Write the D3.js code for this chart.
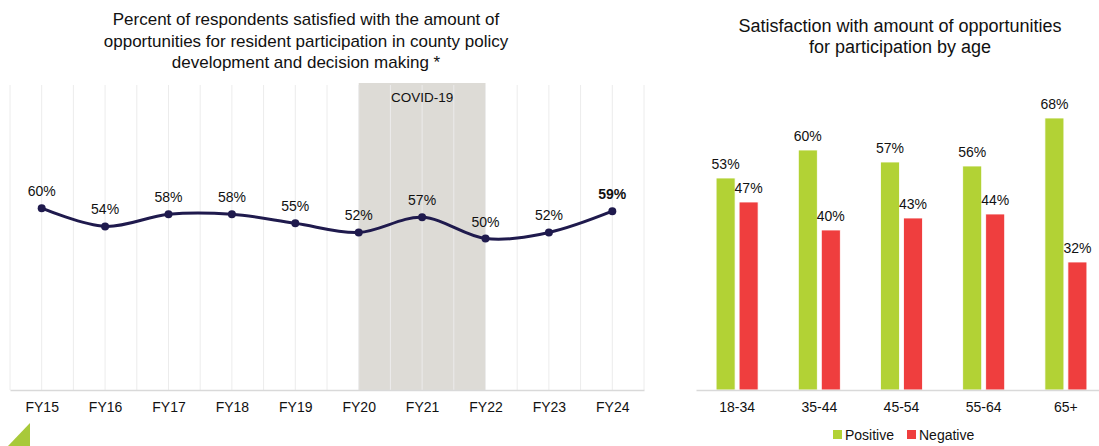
<!DOCTYPE html>
<html>
<head>
<meta charset="utf-8">
<script src="https://cdn.jsdelivr.net/npm/d3@7"></script>
<style>
  body { margin: 0; background: #fff; }
  svg { display: block; font-family: "Liberation Sans", Arial, sans-serif; }
</style>
</head>
<body>
<div class="container"></div>
<script>
var years = ['FY15', 'FY16', 'FY17', 'FY18', 'FY19', 'FY20', 'FY21', 'FY22', 'FY23', 'FY24'];
var satisfied = [60, 54, 58, 58, 55, 52, 57, 50, 52, 59];
var covidSpan = ['FY20', 'FY22'];

var ageGroups = ['18-34', '35-44', '45-54', '55-64', '65+'];
var positive = [53, 60, 57, 56, 68];
var negative = [47, 40, 43, 44, 32];

var WIDTH = 1099, HEIGHT = 446;

var svg = d3.select('.container').append('svg')
    .attr('width', WIDTH)
    .attr('height', HEIGHT);

var translate = function (x, y) {
    return 'translate(' + x + ', ' + y + ')';
};

var addTitle = function (lines, cx, y0, lh, size) {
    svg.append('text')
        .attr('text-anchor', 'middle')
        .attr('font-size', size)
        .attr('fill', '#111')
        .selectAll('tspan')
        .data(lines)
        .enter()
        .append('tspan')
        .attr('x', cx)
        .attr('y', function (d, i) { return y0 + i * lh; })
        .text(function (d) { return d; });
};

// ---- left: line chart ----
var drawLineChart = function () {
    var left = 10, right = 644, top = 87, bottom = 390;
    var xScale = d3.scalePoint().domain(years).range([left, right]).padding(0.5);
    var yScale = d3.scaleLinear().domain([0, 100]).range([bottom, top]);
    var step = xScale.step();

    addTitle(['Percent of respondents satisfied with the amount of',
        'opportunities for resident participation in county policy',
        'development and decision making *'], 306, 25, 21.5, 17);

    var g = svg.append('g');

    // covid shading
    g.append('rect')
        .attr('x', xScale(covidSpan[0]))
        .attr('y', 83)
        .attr('width', xScale(covidSpan[1]) - xScale(covidSpan[0]))
        .attr('height', bottom - 83)
        .attr('fill', '#dddbd6');

    // gridlines at centers and boundaries
    var gridX = [];
    years.forEach(function (y) {
        gridX.push(xScale(y) - step / 2);
        gridX.push(xScale(y));
    });
    gridX.push(right);
    g.selectAll('.grid')
        .data(gridX)
        .enter()
        .append('line')
        .attr('x1', function (d) { return d; })
        .attr('x2', function (d) { return d; })
        .attr('y1', 85)
        .attr('y2', bottom)
        .attr('stroke', '#ececec')
        .attr('stroke-width', 1);

    g.append('text')
        .attr('x', xScale('FY21'))
        .attr('y', 102)
        .attr('text-anchor', 'middle')
        .attr('font-size', 13.5)
        .attr('fill', '#111')
        .text('COVID-19');

    var xAxis = d3.axisBottom(xScale).tickSize(0).tickPadding(12);
    var ax = g.append('g').attr('transform', translate(0, bottom)).call(xAxis);
    ax.select('.domain').attr('stroke', '#d9d9d9').attr('stroke-width', 1.5);
    ax.selectAll('text').attr('font-size', 14).attr('fill', '#111')
        .attr('font-family', '"Liberation Sans", Arial, sans-serif');

    var line = d3.line()
        .x(function (d, i) { return xScale(years[i]); })
        .y(function (d) { return yScale(d); })
        .curve(d3.curveCatmullRom.alpha(0.5));

    g.append('path')
        .datum(satisfied)
        .attr('d', line)
        .attr('fill', 'none')
        .attr('stroke', '#1f1a4d')
        .attr('stroke-width', 3);

    g.selectAll('.pt')
        .data(satisfied)
        .enter()
        .append('circle')
        .attr('cx', function (d, i) { return xScale(years[i]); })
        .attr('cy', function (d) { return yScale(d); })
        .attr('r', 4)
        .attr('fill', '#1f1a4d');

    g.selectAll('.lbl')
        .data(satisfied)
        .enter()
        .append('text')
        .attr('x', function (d, i) { return xScale(years[i]); })
        .attr('y', function (d) { return yScale(d) - 12; })
        .attr('text-anchor', 'middle')
        .attr('font-size', 14)
        .attr('font-weight', function (d, i) { return i === years.length - 1 ? 'bold' : 'normal'; })
        .attr('fill', '#111')
        .text(function (d) { return d + '%'; });

    // corner triangle
    svg.append('path')
        .attr('d', 'M30,423 L30,446 L8,446 Z')
        .attr('fill', '#a8c93a');
};

// ---- right: grouped bars ----
var drawBarChart = function () {
    var left = 696, right = 1107, bottom = 390;
    var x0 = d3.scaleBand().domain(ageGroups).range([left, right]);
    var yScale = d3.scaleLinear().domain([0, 70]).range([bottom, bottom - 280]);
    var barW = 19, gap = 4;

    addTitle(['Satisfaction with amount of opportunities',
        'for participation by age'], 900, 32, 21, 18);

    var g = svg.append('g');
    var series = [
        { name: 'Positive', values: positive, color: '#b2d235', dx: -gap / 2 - barW },
        { name: 'Negative', values: negative, color: '#ef3e3e', dx: gap / 2 }
    ];

    series.forEach(function (s) {
        g.selectAll('.bar-' + s.name)
            .data(s.values)
            .enter()
            .append('rect')
            .attr('x', function (d, i) { return x0(ageGroups[i]) + x0.bandwidth() / 2 + s.dx; })
            .attr('y', function (d) { return yScale(d); })
            .attr('width', barW)
            .attr('height', function (d) { return bottom - yScale(d); })
            .attr('fill', s.color)
            .attr('stroke', '#fff')
            .attr('stroke-width', 0.8);

        g.selectAll('.lbl-' + s.name)
            .data(s.values)
            .enter()
            .append('text')
            .attr('x', function (d, i) { return x0(ageGroups[i]) + x0.bandwidth() / 2 + s.dx + barW / 2; })
            .attr('y', function (d) { return yScale(d) - 9; })
            .attr('text-anchor', 'middle')
            .attr('font-size', 14)
            .attr('fill', '#111')
            .text(function (d) { return d + '%'; });
    });

    var xAxis = d3.axisBottom(x0).tickSize(0).tickPadding(12);
    var ax = g.append('g').attr('transform', translate(0, bottom)).call(xAxis);
    ax.select('.domain').attr('stroke', '#d9d9d9').attr('stroke-width', 1.5);
    ax.selectAll('text').attr('font-size', 14).attr('fill', '#111')
        .attr('font-family', '"Liberation Sans", Arial, sans-serif');

    // legend
    var legendX = [833, 907];
    var lg = svg.append('g');
    series.forEach(function (s, i) {
        lg.append('rect')
            .attr('x', legendX[i])
            .attr('y', 430)
            .attr('width', 9)
            .attr('height', 9)
            .attr('fill', s.color);
        lg.append('text')
            .attr('x', legendX[i] + 12)
            .attr('y', 440)
            .attr('font-size', 14)
            .attr('fill', '#111')
            .text(s.name);
    });
};

drawLineChart();
drawBarChart();
</script>
</body>
</html>
